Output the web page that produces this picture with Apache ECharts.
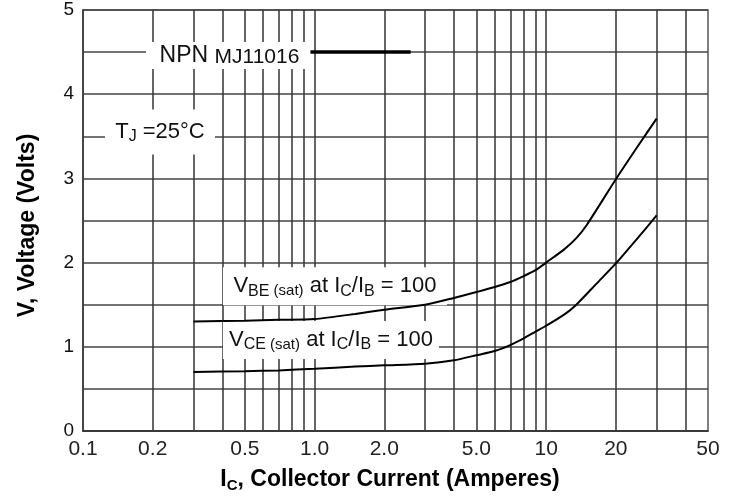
<!DOCTYPE html>
<html>
<head>
<meta charset="utf-8">
<script src="https://cdn.jsdelivr.net/npm/echarts/dist/echarts.min.js"></script>
<style>
html,body{margin:0;padding:0;background:#fff;}
#chart{width:734px;height:498px;}
</style>
</head>
<body>
<div id="chart"></div>
<script>
// ---- data ----
const xGridLines = [0.2,0.3,0.4,0.5,0.6,0.7,0.8,0.9,1,2,3,4,5,6,7,8,9,10,20,30,40];
const xTickValues = [0.1,0.2,0.5,1,2,5,10,20,50];
const xTickLabels = ['0.1','0.2','0.5','1.0','2.0','5.0','10','20','50'];
const yTickLabels = ['0','1','2','3','4','5'];

const icVbe = [0.3,0.5,0.7,1,1.5,2,3,4,5,6,7,8,9,10,12,13.5,15,20,25,30];
const vbe   = [1.30,1.31,1.32,1.33,1.39,1.44,1.50,1.58,1.65,1.71,1.77,1.84,1.91,2.00,2.16,2.29,2.45,2.99,3.39,3.71];

const icVce = [0.3,0.5,0.7,1,1.5,2,3,4,5,6,7,8,9,10,12,13.5,16.5,20,25,30];
const vce   = [0.70,0.71,0.72,0.74,0.765,0.78,0.80,0.84,0.90,0.95,1.02,1.10,1.18,1.25,1.385,1.50,1.75,1.99,2.30,2.56];

const npnLineX = [0.96,2.6];
const npnLineY = [4.5,4.5];

// ---- chart ----
const chart = echarts.init(document.getElementById('chart'), null, {renderer:'canvas'});
const FONT = 'Liberation Sans, Arial, Helvetica, sans-serif';
const mainStyle = {fontSize:22, fontFamily:FONT, color:'#111'};
const subStyle = {fontSize:16, fontFamily:FONT, color:'#111', padding:[10,0,0,0]};
const parStyle = {fontSize:15, fontFamily:FONT, color:'#111', padding:[10,0,0,0]};

function zip(a,b){return a.map((v,i)=>[v,b[i]]);}

const annotations = [
  {value:[0.429,4.46], text:'{n|NPN }{m|MJ11016}', w:167, h:27},
  {value:[0.215,3.55], text:'{t|T}{s|J}{t| =25°C}', w:110, h:45},
  {value:[1.225,1.72], text:'{t|V}{s|BE}{p| (sat)}{t| at I}{s|C}{t|/I}{s|B}{t| = 100}', w:224, h:38},
  {value:[1.177,1.08], text:'{t|V}{s|CE}{p| (sat)}{t| at I}{s|C}{t|/I}{s|B}{t| = 100}', w:216, h:38}
];

const curveStyle = {color:'#000',width:2};

const option = {
  animation:false,
  backgroundColor:'#fff',
  grid:{left:83,right:26,top:10,bottom:65,show:true,borderColor:'#555',borderWidth:1.5},
  xAxis:{
    type:'log', logBase:10, min:0.1, max:50,
    axisLine:{show:true,lineStyle:{color:'#333',width:1.5}},
    axisTick:{show:false}, axisLabel:{show:false}, splitLine:{show:false},
    name:'{b|I}{bs|C}{b|, Collector Current (Amperes)}',
    nameLocation:'middle', nameGap:35,
    nameTextStyle:{padding:[0,11,0,0],rich:{
      b:{fontSize:23,fontWeight:'bold',fontFamily:FONT,color:'#000'},
      bs:{fontSize:15,fontWeight:'bold',fontFamily:FONT,color:'#000',padding:[12,0,0,0]}
    }}
  },
  yAxis:{
    type:'value', min:0, max:5, interval:0.5,
    axisLine:{show:true,lineStyle:{color:'#333',width:1.5}},
    axisTick:{show:false},
    axisLabel:{fontSize:19,fontFamily:FONT,color:'#111',margin:9,
      formatter:v=>{const i=Math.round(v*2);return i%2===0?yTickLabels[i/2]:'';}},
    splitLine:{show:true,lineStyle:{color:'#444',width:1.5}},
    name:'V, Voltage (Volts)', nameLocation:'middle', nameGap:44,
    nameTextStyle:{fontSize:23,fontWeight:'bold',fontFamily:FONT,color:'#000',padding:[0,0,0,-10]}
  },
  series:[
    {
      type:'scatter', z:1, clip:false, symbolSize:0, silent:true,
      itemStyle:{opacity:1},
      data:xTickValues.map((v,i)=>({value:[v,0],name:xTickLabels[i]})),
      label:{show:true,position:'bottom',distance:8,formatter:p=>p.name,
        fontSize:21,fontFamily:FONT,color:'#222'},
      markLine:{silent:true,symbol:'none',label:{show:false},
        lineStyle:{color:'#333',width:1.5,type:'solid',opacity:1},
        data:xGridLines.map(v=>({xAxis:v}))}
    },
    {
      type:'scatter', z:5, clip:false, symbolSize:0, silent:true,
      itemStyle:{opacity:1},
      data:[]
    },
    {
      type:'line', z:10, smooth:0.25, showSymbol:false, symbol:'none',
      lineStyle:curveStyle, data:zip(icVbe,vbe)
    },
    {
      type:'line', z:10, smooth:0.25, showSymbol:false, symbol:'none',
      lineStyle:curveStyle, data:zip(icVce,vce)
    },
    {
      type:'line', z:10, showSymbol:false, symbol:'none',
      lineStyle:{color:'#000',width:3.5}, data:zip(npnLineX,npnLineY)
    }
  ]
};
option.series[1].data = annotations.map(a=>({
  value:a.value, name:a.text,
  itemStyle:{opacity:1},
  label:{show:true,position:'inside',formatter:p=>p.name,opacity:1,
    backgroundColor:'#ffffff', width:a.w, height:a.h, align:'center', verticalAlign:'middle',
    lineHeight:a.h,
    rich:{
      t:mainStyle, s:subStyle, p:parStyle,
      n:{fontSize:23,fontFamily:FONT,color:'#111'},
      m:{fontSize:21,fontFamily:FONT,color:'#111',padding:[3,0,0,0]}
    }}
}));
chart.setOption(option);
</script>
</body>
</html>
